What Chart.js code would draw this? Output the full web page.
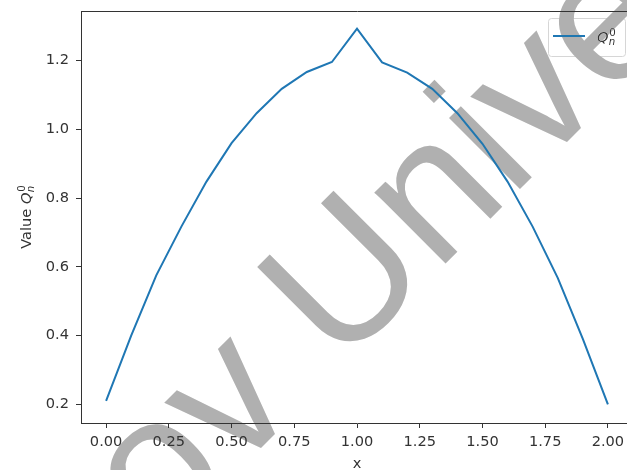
<!DOCTYPE html>
<html>
<head>
<meta charset="utf-8">
<script src="https://cdn.jsdelivr.net/npm/chart.js@4/dist/chart.umd.min.js"></script>
<style>
  html, body { margin: 0; padding: 0; background: #ffffff; overflow: hidden; }
  #wrap { width: 660px; height: 470px; }
</style>
</head>
<body>
<div id="wrap"><canvas id="chart" width="660" height="470"></canvas></div>
<script>
// Grid points x and the computed Q_n^0 values
const xValues = [0.0, 0.1, 0.2, 0.3, 0.4, 0.5, 0.6, 0.7, 0.8, 0.9, 1.0,
                 1.1, 1.2, 1.3, 1.4, 1.5, 1.6, 1.7, 1.8, 1.9, 2.0];
const qValues = [0.21, 0.40, 0.575, 0.717, 0.848, 0.96, 1.047, 1.118, 1.167, 1.196, 1.293,
                 1.195, 1.165, 1.118, 1.047, 0.958, 0.848, 0.717, 0.568, 0.39, 0.20];
const xTicks = [0.0, 0.25, 0.5, 0.75, 1.0, 1.25, 1.5, 1.75, 2.0];
const yTicks = [0.2, 0.4, 0.6, 0.8, 1.0, 1.2];
const seriesLabel = 'Q_n^0';
const xTitle = 'x';
const yTitle = 'Value ';
const watermark = 'ov Unive';

const FONT = '"DejaVu Sans", "Liberation Sans", sans-serif';
const FS = 14.6;
const TEXT = '#333333';
const LINE = '#1f77b4';

// Draws Q with subscript n and superscript 0 starting at x on the given baseline
function drawQ(ctx, x, base, size) {
  ctx.font = `italic ${size}px ${FONT}`;
  ctx.fillText('Q', x, base);
  const w = ctx.measureText('Q').width;
  const s = size * 0.7;
  ctx.font = `italic ${s}px ${FONT}`;
  ctx.fillText('n', x + w + 0.3, base + size * 0.2);
  ctx.font = `${s}px ${FONT}`;
  ctx.fillText('0', x + w + 0.8, base - size * 0.42);
}
function widthQ(ctx, size) {
  ctx.font = `italic ${size}px ${FONT}`;
  const w = ctx.measureText('Q').width;
  ctx.font = `italic ${size * 0.7}px ${FONT}`;
  const wn = ctx.measureText('n').width;
  ctx.font = `${size * 0.7}px ${FONT}`;
  const w0 = ctx.measureText('0').width;
  return w + Math.max(wn + 0.3, w0 + 0.8);
}

const decorations = {
  id: 'decorations',
  afterDraw(chart) {
    const ctx = chart.ctx;
    const area = chart.chartArea;
    const xs = chart.scales.x;
    ctx.save();
    ctx.fillStyle = TEXT;
    ctx.textBaseline = 'alphabetic';

    // x axis title, centred under x = 1
    ctx.font = `${FS}px ${FONT}`;
    ctx.textAlign = 'center';
    ctx.fillText(xTitle, xs.getPixelForValue(1.0), 468);

    // y axis title, rotated
    ctx.save();
    ctx.translate(31, (area.top + area.bottom) / 2);
    ctx.rotate(-Math.PI / 2);
    ctx.textAlign = 'left';
    ctx.font = `${FS}px ${FONT}`;
    const wv = ctx.measureText(yTitle).width;
    const total = wv + widthQ(ctx, FS);
    ctx.font = `${FS}px ${FONT}`;
    ctx.fillText(yTitle, -total / 2, 0);
    drawQ(ctx, -total / 2 + wv, 0, FS);
    ctx.restore();

    // legend box in the upper right of the axes
    const bx = 548.5, by = 18.5, bw = 77, bh = 38, r = 3;
    ctx.beginPath();
    ctx.moveTo(bx + r, by);
    ctx.lineTo(bx + bw - r, by);
    ctx.arcTo(bx + bw, by, bx + bw, by + r, r);
    ctx.lineTo(bx + bw, by + bh - r);
    ctx.arcTo(bx + bw, by + bh, bx + bw - r, by + bh, r);
    ctx.lineTo(bx + r, by + bh);
    ctx.arcTo(bx, by + bh, bx, by + bh - r, r);
    ctx.lineTo(bx, by + r);
    ctx.arcTo(bx, by, bx + r, by, r);
    ctx.closePath();
    ctx.fillStyle = 'rgba(255,255,255,0.8)';
    ctx.fill();
    ctx.strokeStyle = '#d6d6d6';
    ctx.lineWidth = 1;
    ctx.stroke();
    ctx.beginPath();
    ctx.moveTo(553, 36);
    ctx.lineTo(585, 36);
    ctx.strokeStyle = LINE;
    ctx.lineWidth = 2;
    ctx.stroke();
    ctx.fillStyle = TEXT;
    ctx.textAlign = 'left';
    drawQ(ctx, 597, 42, FS);

    // watermark text across the plot
    ctx.save();
    ctx.globalCompositeOperation = 'darken';
    ctx.translate(160, 549);
    ctx.rotate(-45 * Math.PI / 180);
    ctx.font = `190px "Liberation Sans", Arial, sans-serif`;
    ctx.fillStyle = 'rgb(176,176,176)';
    ctx.textAlign = 'left';
    ctx.fillText(watermark, 0, 0);
    ctx.restore();

    ctx.restore();
  }
};

new Chart(document.getElementById('chart'), {
  type: 'line',
  data: {
    datasets: [{
      label: seriesLabel,
      data: xValues.map((x, i) => ({ x: x, y: qValues[i] })),
      borderColor: LINE,
      backgroundColor: LINE,
      borderWidth: 2,
      pointRadius: 0,
      tension: 0,
      fill: false
    }]
  },
  options: {
    responsive: false,
    animation: false,
    layout: { padding: { top: 11, right: 27, left: 0, bottom: 0 } },
    plugins: { legend: { display: false }, tooltip: { enabled: false } },
    scales: {
      x: {
        type: 'linear',
        min: -0.1,
        max: 2.1,
        afterBuildTicks: s => { s.ticks = xTicks.map(v => ({ value: v })); },
        afterFit: s => { s.height = 47; s.paddingLeft = 0; s.paddingRight = 0; },
        ticks: {
          callback: v => Number(v).toFixed(2),
          font: { family: FONT, size: FS },
          color: TEXT,
          padding: 5,
          maxRotation: 0,
          autoSkip: false
        },
        grid: { drawOnChartArea: false, drawTicks: true, tickLength: 5, color: '#333333', tickWidth: 1 },
        border: { display: true, color: '#333333', width: 1 }
      },
      y: {
        type: 'linear',
        min: 0.1455,
        max: 1.3445,
        afterBuildTicks: s => { s.ticks = yTicks.map(v => ({ value: v })); },
        afterFit: s => { s.width = 81; s.paddingTop = 0; s.paddingBottom = 0; },
        ticks: {
          callback: v => Number(v).toFixed(1),
          font: { family: FONT, size: FS },
          color: TEXT,
          padding: 7,
          autoSkip: false
        },
        grid: { drawOnChartArea: false, drawTicks: true, tickLength: 5, color: '#333333', tickWidth: 1 },
        border: { display: true, color: '#333333', width: 1 }
      },
      x2: {
        type: 'linear', position: 'top', display: true,
        min: -0.1, max: 2.1,
        afterFit: s => { s.height = 0; s.paddingLeft = 0; s.paddingRight = 0; },
        ticks: { display: false },
        grid: { display: false },
        border: { display: true, color: '#333333', width: 1 }
      }
    }
  },
  plugins: [decorations]
});
</script>
</body>
</html>
